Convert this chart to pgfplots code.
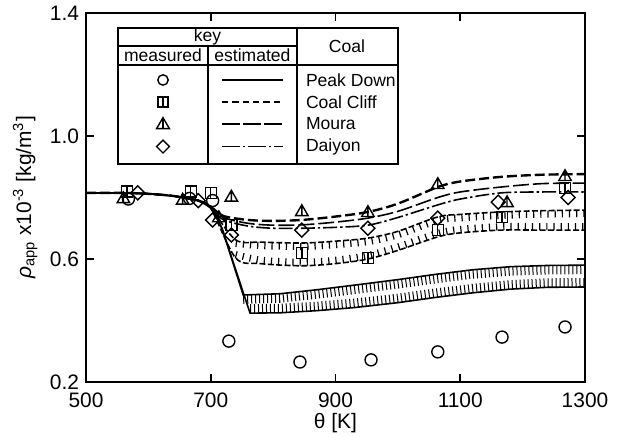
\documentclass[border=0pt]{standalone}
\usepackage{fontspec}
\setmainfont{Liberation Sans}
\usepackage{pgfplots}
\usepackage{pgfplotstable}
\pgfplotsset{compat=1.18}

% measured points
\pgfplotstableread{
T rho
568 0.795
666 0.797
703 0.790
729 0.333
843 0.265
957 0.272
1064 0.298
1167 0.346
1268 0.379
}\peakdown
\pgfplotstableread{
T rho
566 0.820
668 0.820
700 0.815
733 0.710
846 0.619
952 0.603
1064 0.694
1167 0.737
1268 0.831
}\coalcliff
\pgfplotstableread{
T rho
560 0.795
655 0.790
713 0.733
733 0.800
846 0.753
952 0.750
1064 0.841
1175 0.782
1268 0.867
}\moura
\pgfplotstableread{
T rho
583 0.815
680 0.790
703 0.727
733 0.678
846 0.694
952 0.700
1064 0.733
1161 0.785
1273 0.800
}\daiyon

% estimated curves
\pgfplotstableread{
T rho
500 0.815
560 0.815
600 0.812
640 0.805
680 0.790
700 0.770
720 0.740
760 0.727
800 0.724
846 0.727
900 0.738
952 0.753
1000 0.780
1064 0.834
1100 0.852
1165 0.867
1230 0.874
1300 0.876
}\estA
\pgfplotstableread{
T rho
500 0.815
560 0.815
600 0.812
640 0.805
680 0.790
700 0.768
720 0.735
760 0.716
800 0.710
846 0.711
900 0.720
952 0.733
1000 0.755
1064 0.800
1100 0.818
1165 0.834
1230 0.845
1300 0.847
}\estB
\pgfplotstableread{
T rho
500 0.815
560 0.815
600 0.812
640 0.805
680 0.790
700 0.765
720 0.728
760 0.707
800 0.700
846 0.700
900 0.703
952 0.710
1000 0.735
1064 0.776
1100 0.795
1165 0.815
1230 0.818
1300 0.818
}\estC
\pgfplotstableread{
T rho
500 0.815
560 0.815
600 0.812
640 0.805
680 0.790
700 0.765
740 0.662
780 0.655
846 0.652
900 0.658
952 0.668
1000 0.690
1064 0.737
1100 0.745
1165 0.753
1230 0.757
1300 0.759
}\hatchtop
\pgfplotstableread{
T rho
500 0.815
560 0.815
600 0.812
640 0.805
680 0.790
700 0.765
740 0.603
780 0.585
846 0.578
900 0.585
952 0.600
1000 0.628
1064 0.672
1100 0.685
1165 0.694
1230 0.694
1300 0.694
}\hatchbot
\pgfplotstableread{
T rho
500 0.815
560 0.815
600 0.812
640 0.805
680 0.790
700 0.770
718 0.700
752 0.483
811 0.487
870 0.500
930 0.515
1000 0.533
1060 0.550
1120 0.565
1180 0.575
1240 0.579
1300 0.580
}\pdtop
\pgfplotstableread{
T rho
500 0.815
560 0.815
600 0.812
640 0.805
680 0.790
700 0.770
718 0.700
763 0.424
811 0.425
870 0.432
930 0.442
1000 0.458
1060 0.475
1120 0.490
1180 0.502
1240 0.508
1300 0.509
}\pdbot

\pgfdeclareplotmark{sqbar}{%
  \pgfpathrectangle{\pgfqpoint{-\pgfplotmarksize}{-\pgfplotmarksize}}{\pgfqpoint{2\pgfplotmarksize}{2\pgfplotmarksize}}%
  \pgfpathmoveto{\pgfqpoint{0pt}{-\pgfplotmarksize}}%
  \pgfpathlineto{\pgfqpoint{0pt}{\pgfplotmarksize}}%
  \pgfusepathqstroke}
\pgfdeclareplotmark{tribar}{%
  \pgfpathmoveto{\pgfqpoint{0pt}{\pgfplotmarksize}}%
  \pgfpathlineto{\pgfqpoint{-0.866\pgfplotmarksize}{-0.5\pgfplotmarksize}}%
  \pgfpathlineto{\pgfqpoint{0.866\pgfplotmarksize}{-0.5\pgfplotmarksize}}%
  \pgfpathclose
  \pgfpathmoveto{\pgfqpoint{0pt}{\pgfplotmarksize}}%
  \pgfpathlineto{\pgfqpoint{0pt}{-0.5\pgfplotmarksize}}%
  \pgfusepathqstroke}
\pgfdeclareplotmark{dmd}{%
  \pgfpathmoveto{\pgfqpoint{0pt}{\pgfplotmarksize}}%
  \pgfpathlineto{\pgfqpoint{\pgfplotmarksize}{0pt}}%
  \pgfpathlineto{\pgfqpoint{0pt}{-\pgfplotmarksize}}%
  \pgfpathlineto{\pgfqpoint{-\pgfplotmarksize}{0pt}}%
  \pgfpathclose
  \pgfusepathqstroke}

% hatch ticks: a wide, finely dashed stroke shifted to one side of a curve
\tikzset{
  hatchdown/.style={line width=3.5bp, line cap=butt, dash pattern=on 0.6pt off 3pt, yshift=-1.75bp},
  hatchup/.style={line width=3.5bp, line cap=butt, dash pattern=on 0.6pt off 3pt, yshift=1.75bp},
  densedown/.style={line width=4.5bp, line cap=butt, dash pattern=on 0.5pt off 1.5pt, yshift=-2.25bp},
  denseup/.style={line width=4.5bp, line cap=butt, dash pattern=on 0.5pt off 1.5pt, yshift=2.25bp},
}

\begin{document}
\begin{tikzpicture}[font=\fontsize{10.5}{12}\selectfont]
\begin{axis}[
  scale only axis, width=249.5bp, height=184.5bp,
  xmin=500, xmax=1300, ymin=0.2, ymax=1.4,
  xtick={500,700,900,1100,1300}, ytick={0.2,0.6,1.0,1.4},
  tick align=inside, major tick length=4bp,
  every tick/.style={black, line width=0.8bp},
  axis line style={line width=1bp},
  /pgf/number format/assume math mode=true,
  yticklabel style={/pgf/number format/.cd, fixed, fixed zerofill, precision=1},
  xticklabel style={yshift=-2bp, /pgf/number format/.cd, fixed, set thousands separator={}},
  ticklabel style={font=\fontsize{10.5}{12}\selectfont},
  xlabel={θ [K]},
  xlabel style={at={(axis description cs:0.5,-0.111)}, anchor=center},
  ylabel={{\itshape ρ}\textsubscript{app} x10\textsuperscript{-3} [kg/m\textsuperscript{3}]},
  ylabel style={at={(axis description cs:-0.122,0.5)}, anchor=center},
  every axis plot/.append style={black},
]
% estimated curves
\addplot[smooth, tension=0.5, line width=1.2pt, dash pattern=on 5pt off 2pt, no marks] table[x=T,y=rho] {\estA};
\addplot[smooth, tension=0.5, line width=0.8pt, dash pattern=on 8pt off 2pt, no marks] table[x=T,y=rho] {\estB};
\addplot[smooth, tension=0.5, line width=0.8pt, dash pattern=on 7pt off 1.5pt on 1.2pt off 1.5pt, no marks] table[x=T,y=rho] {\estC};
\addplot[smooth, tension=0.5, line width=0.8pt, dash pattern=on 3pt off 1.2pt, no marks] table[x=T,y=rho] {\hatchtop};
\addplot[smooth, tension=0.5, line width=0.8pt, dash pattern=on 3pt off 1.2pt, no marks] table[x=T,y=rho] {\hatchbot};
\addplot[smooth, tension=0.5, hatchdown, no marks, skip coords between index={0}{6}] table[x=T,y=rho] {\hatchtop};
\addplot[smooth, tension=0.5, hatchup, no marks, skip coords between index={0}{6}] table[x=T,y=rho] {\hatchbot};
\addplot[sharp plot, line width=0.8pt, no marks] table[x=T,y=rho] {\pdtop};
\addplot[sharp plot, line width=0.8pt, no marks] table[x=T,y=rho] {\pdbot};
\addplot[sharp plot, densedown, no marks, skip coords between index={0}{7}] table[x=T,y=rho] {\pdtop};
\addplot[sharp plot, denseup, no marks, skip coords between index={0}{7}] table[x=T,y=rho] {\pdbot};
% measured points
\addplot[only marks, mark=o, mark size=3bp, mark options={line width=0.7pt}] table[x=T,y=rho] {\peakdown};
\addplot[only marks, mark=sqbar, mark size=2.75bp, mark options={line width=0.7pt}] table[x=T,y=rho] {\coalcliff};
\addplot[only marks, mark=tribar, mark size=3.6bp, mark options={line width=0.7pt}] table[x=T,y=rho] {\moura};
\addplot[only marks, mark=dmd, mark size=3.5bp, mark options={line width=0.7pt}] table[x=T,y=rho] {\daiyon};
\end{axis}
% key table
\begin{scope}[shift={(current axis.north west)}, x=1bp, y=1bp, font=\fontsize{8.8}{10}\selectfont]
\fill[white] (16,-7.5) rectangle (156,-75.5);
\draw[line width=0.9pt] (16,-7.5) rectangle (156,-75.5);
\draw[line width=0.9pt] (105.5,-7.5) -- (105.5,-75.5);
\draw[line width=0.7pt] (16,-16.5) -- (105.5,-16.5);
\draw[line width=0.7pt] (16,-26) -- (156,-26);
\draw[line width=0.7pt] (61,-16.5) -- (61,-75.5);
\node at (60.75,-12) {key};
\node at (38.5,-21.3) {measured};
\node at (83.2,-21.3) {estimated};
\node at (130.5,-16.8) {Coal};
\node[anchor=west] at (106.5,-33.5) {Peak Down};
\node[anchor=west] at (106.5,-44.5) {Coal Cliff};
\node[anchor=west] at (106.5,-55.5) {Moura};
\node[anchor=west] at (106.5,-66.8) {Daiyon};
\begin{scope}[line width=0.7pt]
\draw (38.5,-33.5) circle (2.6bp);
\draw (36,-47) rectangle (41,-42); \draw (38.5,-47) -- (38.5,-42);
\draw (38.5,-52.3) -- (35.3,-57.8) -- (41.7,-57.8) -- cycle; \draw (38.5,-52.3) -- (38.5,-57.8);
\draw (38.5,-63.6) -- (41.7,-66.8) -- (38.5,-70) -- (35.3,-66.8) -- cycle;
\end{scope}
\draw[line width=0.7pt] (68,-33.5) -- (98.5,-33.5);
\draw[line width=0.7pt, dash pattern=on 3.2pt off 2pt] (68,-44.5) -- (98.5,-44.5);
\draw[line width=0.7pt, dash pattern=on 9pt off 1.5pt] (68,-55.5) -- (98.5,-55.5);
\draw[line width=0.7pt, dash pattern=on 9pt off 1.5pt on 1pt off 1.5pt] (68,-66.8) -- (98.5,-66.8);
\end{scope}
\pgfresetboundingbox
\useasboundingbox ([xshift=-43bp,yshift=-27bp]current axis.south west) rectangle ([xshift=19bp,yshift=6.5bp]current axis.north east);
\end{tikzpicture}
\end{document}
